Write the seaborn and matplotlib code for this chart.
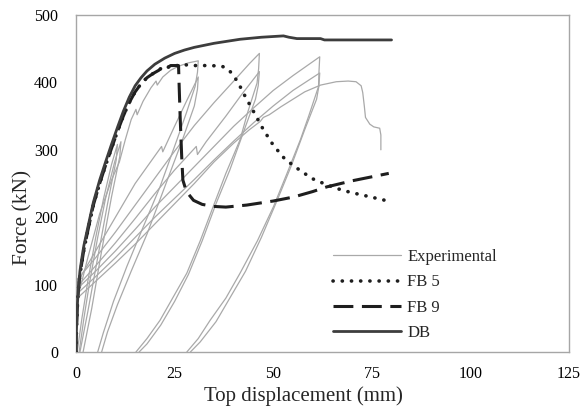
import numpy as np
import pandas as pd
import matplotlib
matplotlib.use("Agg")
import matplotlib.pyplot as plt
import seaborn as sns
from matplotlib.lines import Line2D

# ---------------- data ----------------
x_ticks = [0, 25, 50, 75, 100, 125]
y_ticks = [0, 100, 200, 300, 400, 500]

db_x = [0, 0.1, 0.3, 0.6, 1, 1.5, 2, 3, 4.4, 6, 7.5, 9, 10.5, 12, 13.5, 15, 16.5, 18, 20, 22.5, 25, 27.5,
        30, 35, 41.6, 47, 52.6, 54, 56, 62, 63, 80]
db_y = [0, 30, 65, 95, 120, 140, 158, 185, 222, 255, 282, 308, 333, 357, 378, 395, 407, 417, 427, 436, 443, 448,
        452, 458, 464, 467, 469, 467, 465, 465, 463, 463]

fb5_x = [0, 0.1, 0.3, 0.6, 1, 2, 3, 4.4, 6, 7.5, 9, 10.5, 12, 13.5, 15, 16.5, 18, 19.5, 21, 22, 23, 24, 26, 28,
         30, 34, 37, 38.5, 40, 41.6, 43, 45, 47.5, 50, 53, 56.9, 60, 63.6, 66.5, 69.5, 74, 78.4]
fb5_y = [0, 28, 62, 92, 115, 152, 180, 218, 250, 277, 302, 327, 350, 370, 386, 398, 407, 413, 418, 423, 421, 425,
         425, 426, 425, 425, 424, 420, 410, 394, 378, 357, 330, 307, 286, 269, 257, 248, 242, 237, 231, 225]

fb9_x = [0, 0.1, 0.3, 0.6, 1, 2, 3, 4.4, 6, 7.5, 9, 10.5, 12, 13.5, 15, 16.5, 18, 19.5, 21, 22, 23, 24, 26,
         26.1, 26.4, 26.8, 27.1, 28, 29.8, 32, 34.9, 38, 43.3, 50, 55.2, 60, 63.6, 70, 79.3]
fb9_y = [0, 28, 62, 92, 115, 152, 180, 218, 250, 277, 302, 327, 350, 370, 386, 398, 407, 413, 418, 423, 421, 425, 425,
         405, 350, 290, 255, 238, 225, 219, 216, 215, 218, 224, 230, 238, 245, 254, 265]

# experimental hysteresis branches (NaN separates branches that leave the visible range)
nan = np.nan
exp_x = [
    # cycle ~11 mm (1)
    0.3, 1.5, 3, 5, 7, 9, 10.5, 10.2, 8, 5.5, 3, 1.0, nan,
    # cycle ~11 mm (2)
    0.8, 2, 3.5, 5.5, 7.5, 9.8, 11.4, 11.1, 9, 6.5, 4, 1.8, nan,
    # cycle ~31 mm (1)
    0, 3, 6, 9, 11, 12.5, 14, 15.2, 15.5, 17, 19, 20.3, 20.6, 22, 24, 26, 28.5, 31,
    30.8, 30.2, 28, 25.6, 21.3, 17, 12.9, 9.5, 6.9, 5.5, nan,
    # cycle ~31 mm (2)
    0, 5, 10, 15, 21.7, 22, 25, 28, 31,
    30.8, 30, 27, 22.5, 18, 14, 10.5, 8, 6.5, nan,
    # cycle ~46 mm (1)
    0, 5, 10, 15, 20, 25, 30, 35, 40, 44, 46.5,
    46.3, 45.9, 43.5, 41.6, 38, 34.8, 31.5, 28.1, 24.5, 21.3, 18, 15.2, nan,
    # cycle ~46 mm (2)
    0, 5, 10, 15, 20, 25, 30.5, 30.8, 33, 38, 42, 46.5,
    46.2, 45.5, 43, 39, 35.5, 32, 28.5, 25, 21.5, 18, 16, nan,
    # cycle ~62 mm (1)
    0, 5, 10, 15, 20, 25, 30, 35, 40, 45, 50, 55, 61.8,
    61.6, 61.5, 59, 56.9, 53.5, 50.1, 46, 41.6, 38, 34, 31, 28.1, nan,
    # cycle ~62 mm (2)
    0, 5, 10, 15, 20, 25, 30, 35, 40, 45, 50, 55, 61.8,
    61.6, 61, 58, 54.5, 51, 47, 43, 39, 35.5, 31.5, 29, nan,
    # final push
    0, 5, 10, 15, 20, 25, 30, 35, 40, 44, 46.7, 47.5, 49, 52, 55, 58, 62, 66, 69, 71,
    72.3, 72.7, 73.1, 73.4, 74.5, 75.5, 77, 77.3, 77.3,
]
exp_y = [
    0, 50, 105, 170, 228, 278, 308, 285, 220, 140, 60, 0, nan,
    0, 50, 105, 170, 228, 282, 312, 290, 230, 150, 65, 0, nan,
    70, 140, 205, 255, 282, 315, 345, 360, 352, 372, 392, 402, 396, 408, 418, 424, 429, 432,
    415, 394, 355, 315, 245, 185, 127, 75, 28, 0, nan,
    100, 150, 200, 250, 305, 297, 335, 372, 408,
    390, 365, 315, 245, 175, 120, 70, 30, 0, nan,
    105, 140, 178, 218, 258, 298, 336, 370, 402, 428, 443,
    420, 399, 355, 315, 265, 216, 165, 117, 80, 47, 20, 0, nan,
    95, 128, 162, 198, 235, 270, 305, 293, 312, 350, 382, 416,
    395, 375, 335, 270, 220, 165, 115, 75, 40, 12, 0, nan,
    92, 120, 150, 182, 215, 245, 275, 305, 335, 362, 388, 410, 438,
    415, 394, 350, 315, 265, 216, 165, 117, 80, 47, 20, 0, nan,
    85, 112, 140, 170, 200, 228, 256, 285, 313, 340, 365, 388, 414,
    395, 375, 330, 275, 225, 170, 120, 80, 45, 15, 0, nan,
    78, 105, 132, 160, 190, 220, 250, 282, 310, 330, 342, 348, 352, 364, 375, 386, 396, 401, 402, 401,
    395, 385, 365, 348, 338, 334, 332, 322, 300,
]

# ---------------- build frames ----------------
ex = np.array(exp_x, dtype=float)
ey = np.array(exp_y, dtype=float)
branch = np.cumsum(np.isnan(ex))
exp_df = pd.DataFrame({"x": ex, "y": ey, "branch": branch}).dropna()
db_df = pd.DataFrame({"x": db_x, "y": db_y})
fb5_df = pd.DataFrame({"x": fb5_x, "y": fb5_y})
fb9_df = pd.DataFrame({"x": fb9_x, "y": fb9_y})

# ---------------- style ----------------
sns.set_theme(style="white")
plt.rcParams["font.family"] = ["Liberation Serif", "DejaVu Serif"]

fig = plt.figure(figsize=(5.81, 4.07), dpi=100)
ax = fig.add_axes([76 / 581, 1 - 352 / 407, (569 - 76) / 581, (352 - 15) / 407])

exp_col = "#a9a9a9"
dot_style = (0, (0.05, 2.5))
dash_style = (0, (6.5, 2.8))
sns.lineplot(data=exp_df, x="x", y="y", units="branch", estimator=None, sort=False,
             color=exp_col, linewidth=0.9, ax=ax, zorder=1, legend=False)
sns.lineplot(data=fb9_df, x="x", y="y", sort=False, color="#1e1e1e", linewidth=2.2,
             linestyle=dash_style, ax=ax, zorder=2, legend=False)
sns.lineplot(data=fb5_df, x="x", y="y", sort=False, color="#1e1e1e", linewidth=2.6,
             linestyle=dot_style, dash_capstyle="round", ax=ax, zorder=3, legend=False)
sns.lineplot(data=db_df, x="x", y="y", sort=False, color="#3d3d3d", linewidth=2.0,
             ax=ax, zorder=4, legend=False)

ax.set_xlim(0, 125)
ax.set_ylim(0, 500)
ax.set_xticks(x_ticks)
ax.set_yticks(y_ticks)
ax.tick_params(axis="both", length=0, labelsize=11.5, colors="black")
ax.tick_params(axis="y", pad=13)
ax.tick_params(axis="x", pad=10)
for s in ax.spines.values():
    s.set_visible(True)
    s.set_color("#a6a6a6")
    s.set_linewidth(1.0)

ax.set_xlabel("Top displacement (mm)", fontsize=15)
ax.set_ylabel("Force (kN)", fontsize=15.5)
ax.xaxis.set_label_coords(0.4604, -0.1306)
ax.yaxis.set_label_coords(-0.1075, 0.4006)
ax.xaxis.label.set_va("center")
ax.yaxis.label.set_va("center")

handles = [
    Line2D([], [], color=exp_col, linewidth=0.9),
    Line2D([], [], color="#1e1e1e", linewidth=2.6, linestyle=dot_style, dash_capstyle="round"),
    Line2D([], [], color="#1e1e1e", linewidth=2.2, linestyle=dash_style),
    Line2D([], [], color="#3d3d3d", linewidth=2.0),
]
labels = ["Experimental", "FB 5", "FB 9", "DB"]
ax.legend(handles, labels, loc="upper left", bbox_to_anchor=(0.521, 0.305), frameon=False,
          fontsize=12, handlelength=4.1, handletextpad=0.35, labelspacing=0.55,
          borderpad=0, borderaxespad=0)

fig.savefig("out.png", dpi=100)
